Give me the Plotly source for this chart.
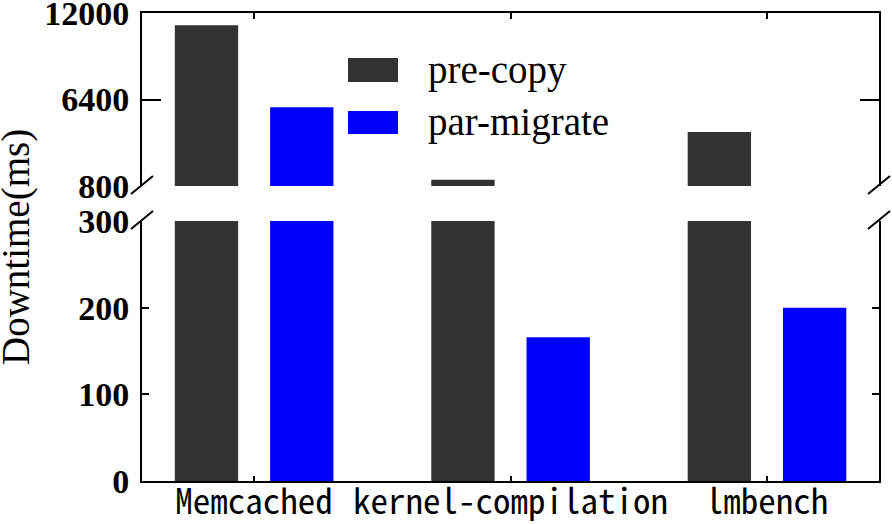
import plotly.graph_objects as go

categories = ["Memcached", "kernel-compilation", "lmbench"]
series_names = ["pre-copy", "par-migrate"]
pre_copy = [11200, 1200, 4300]
par_migrate = [5900, 166, 200]
top_ticks = [800, 6400, 12000]
bottom_ticks = [0, 100, 200, 300]
y_title = "Downtime(ms)"

colors = ["#333333", "#0000ff"]
W, H = 892, 524
L, R, T, B = 142, 13, 13, 43
PW, PH = W - L - R, H - T - B
bottom_dom = [0, (481 - 221) / PH]
top_dom = [(481 - 186) / PH, 1]

serif = "Liberation Serif, Times New Roman, serif"
mono = "Noto Sans Mono CJK SC, Liberation Mono, monospace"

fig = go.Figure()
offsets = [-0.309, 0.0625]
for vals, name, col, off in zip([pre_copy, par_migrate], series_names, colors, offsets):
    for xa, ya in [("x", "y"), ("x2", "y2")]:
        fig.add_trace(go.Bar(x=categories, y=vals, name=name,
                             marker=dict(color=col, line=dict(width=0)),
                             width=0.247, offset=off, xaxis=xa, yaxis=ya,
                             showlegend=False, hoverinfo="skip"))

axis_common = dict(showline=True, linewidth=2, linecolor="black", showgrid=False,
                   zeroline=False, ticks="inside", tickwidth=2, tickcolor="black",
                   automargin=False, ticklabeloverflow="allow")

ytickfont = dict(family=serif, size=34, color="black", weight="bold")

fig.update_layout(
    width=W, height=H,
    margin=dict(l=L, r=R, t=T, b=B, pad=0),
    plot_bgcolor="white", paper_bgcolor="white",
    barmode="overlay",
    showlegend=False,
    xaxis=dict(domain=[0, 1], anchor="y", type="category", range=[-0.437, 2.437],
               ticklen=5, tickfont=dict(family=mono, size=35, color="black"),
               ticklabelstandoff=-11,
               **axis_common),
    xaxis2=dict(domain=[0, 1], anchor="y2", type="category", matches="x",
                side="top", ticklen=6, showticklabels=False, **axis_common),
    yaxis=dict(domain=bottom_dom, anchor="x", range=[0, 300], tickmode="array",
               tickvals=bottom_ticks, ticktext=[str(v) for v in bottom_ticks],
               ticklen=7, mirror="ticks", tickfont=ytickfont,
               ticklabelstandoff=4,
               **axis_common),
    yaxis2=dict(domain=top_dom, anchor="x2", range=[800, 12000], tickmode="array",
                tickvals=top_ticks, ticktext=[str(v) for v in top_ticks],
                ticklen=19, mirror="ticks", tickfont=ytickfont,
                ticklabelstandoff=4,
                **axis_common),
)

def px_x(px):
    return (px - L) / PW

def px_y(py):
    return (H - B - py) / PH

# manual legend
leg_boxes = [(58, 82), (111, 134)]
for (y0, y1), name, col in zip(leg_boxes, series_names, colors):
    fig.add_shape(type="rect", xref="paper", yref="paper",
                  x0=px_x(348), x1=px_x(398), y0=px_y(y1), y1=px_y(y0),
                  fillcolor=col, line=dict(width=0))
    fig.add_annotation(xref="paper", yref="paper", x=px_x(426), y=px_y((y0 + y1) / 2),
                       text=name, showarrow=False, xanchor="left", yanchor="middle",
                       font=dict(family=serif, size=39, color="black"))

# y axis title
fig.add_annotation(xref="paper", yref="paper", x=px_x(16), y=0.5, text=y_title,
                   textangle=-90, showarrow=False, xanchor="center", yanchor="middle",
                   font=dict(family=serif, size=39, color="black"))

# break marks
for xpx in [142, 879]:
    for ypx in [185, 220]:
        fig.add_shape(type="line", xref="paper", yref="paper",
                      x0=px_x(xpx - 11), y0=px_y(ypx + 9),
                      x1=px_x(xpx + 11), y1=px_y(ypx - 9),
                      line=dict(color="black", width=2))

fig.write_html("out.html", config={"displayModeBar": False},
               post_script="document.body.style.margin='0';document.body.style.overflow='hidden';")
